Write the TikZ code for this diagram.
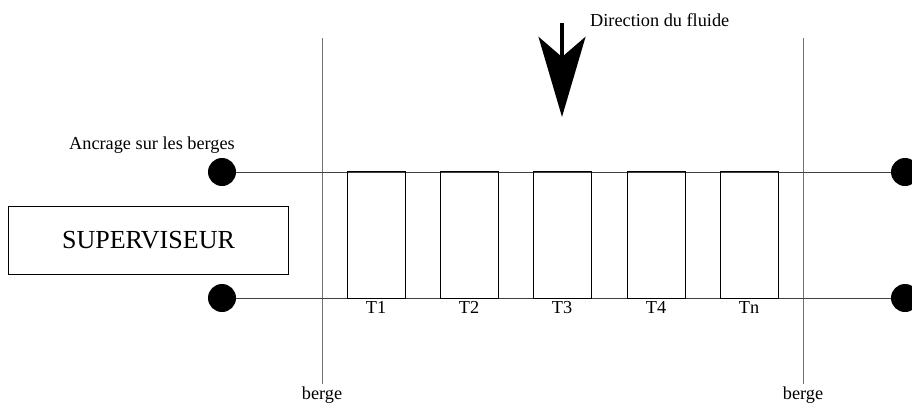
\documentclass[tikz,border=0pt]{standalone}
\usepackage{fontspec}
\setmainfont{Liberation Serif}
\usetikzlibrary{arrows.meta,positioning}

\begin{document}
\begin{tikzpicture}[x=0.025cm,y=-0.025cm,line width=0.7pt,
    font=\fontsize{13}{15}\selectfont,
    ancre/.style={circle,fill=black,inner sep=0pt,minimum size=0.7cm},
    cable/.style={draw=black!75},
    rive/.style={draw=black!55},
    troncon/.style={draw,rectangle,minimum width=1.45cm,minimum height=3.15cm,inner sep=0pt},
    fleche/.style={-{Stealth[length=2cm,width=1.17cm,inset=0.5cm]},line width=3.5pt}]
  \useasboundingbox (0,0) rectangle (912,408);
  % berges
  \coordinate (bgA top) at (322,38);
  \coordinate (bgB top) at (803,38);
  \node[anchor=north,inner sep=2pt] (bgA) at (322,384) {berge};
  \node[anchor=north,inner sep=2pt] (bgB) at (803,384) {berge};
  \draw[rive] (bgA top) -- (bgA.north);
  \draw[rive] (bgB top) -- (bgB.north);
  % ancrages et cables
  \node[ancre] (ancHG) at (222,172) {};
  \node[ancre] (ancHD) at (905,172) {};
  \node[ancre] (ancBG) at (222,298) {};
  \node[ancre] (ancBD) at (905,298) {};
  \draw[cable] (ancHG) -- (ancHD);
  \draw[cable] (ancBG) -- (ancBD);
  \node (ancrage) at (152,145) {Ancrage sur les berges};
  % troncons
  \foreach \x/\t [count=\i] in {376/T1,469/T2,562/T3,656/T4,749/Tn} {
    \node[troncon] (tr\i) at (\x,235) {};
    \node[below=0pt of tr\i,inner sep=2pt] (lab\i) {\t};
  }
  % superviseur
  \node[draw,rectangle,minimum width=6.975cm,minimum height=1.7cm,
        font=\fontsize{18.5}{22}\selectfont] (sup) at (148.5,240) {SUPERVISEUR};
  % sens du courant
  \coordinate (flA) at (562,23);
  \coordinate (flB) at (562,117);
  \draw[fleche] (flA) -- (flB);
  \node[anchor=west] (dir) at (585,20) {Direction du fluide};
\end{tikzpicture}
\end{document}
